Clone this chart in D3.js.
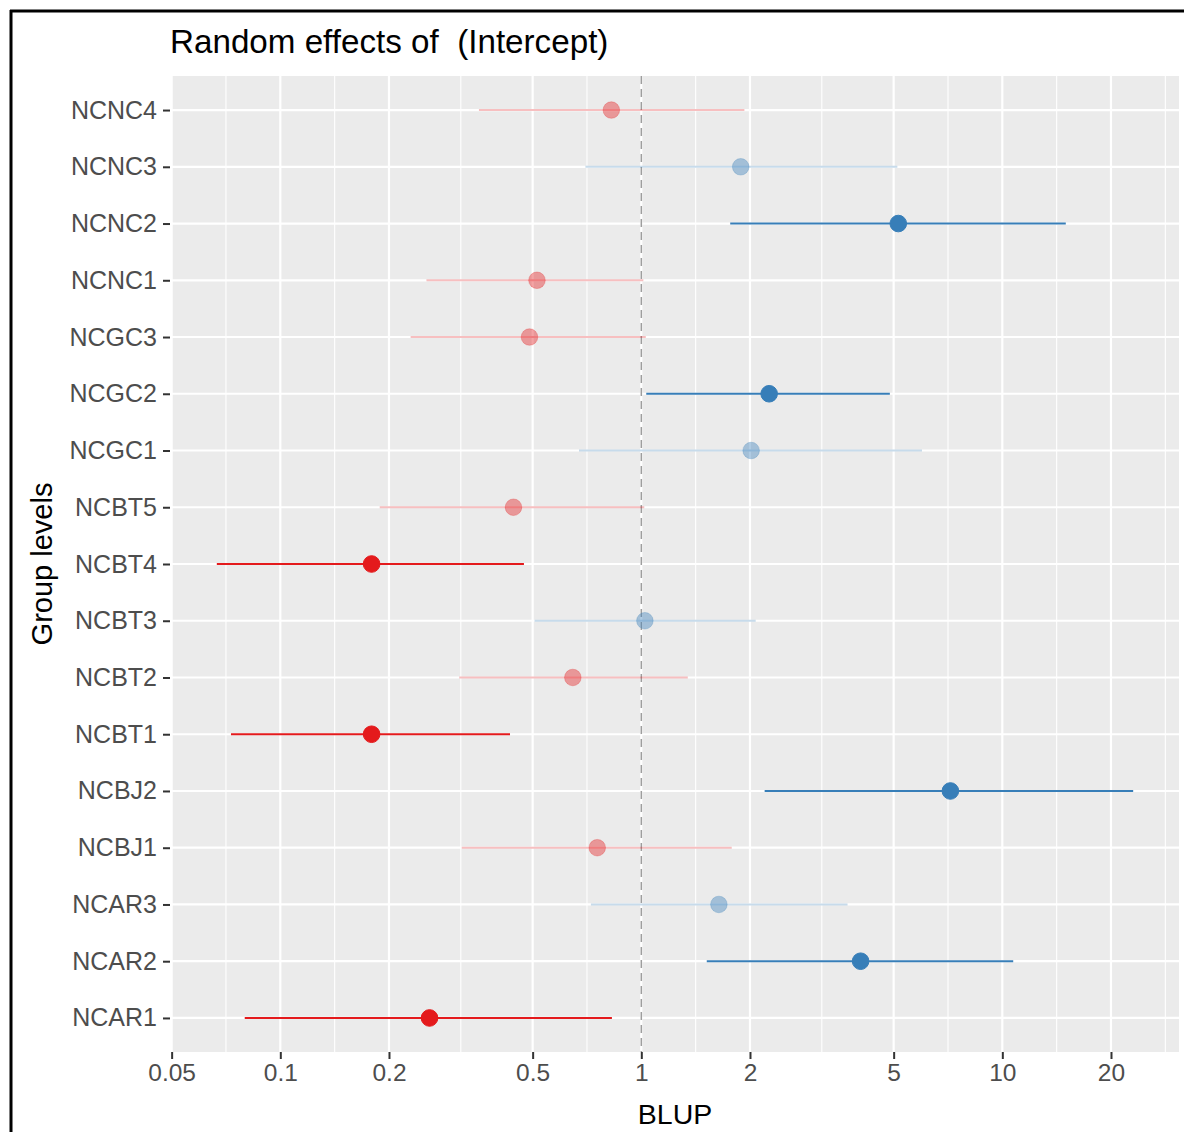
<!DOCTYPE html>
<html>
<head>
<meta charset="utf-8">
<script src="https://cdn.jsdelivr.net/npm/d3@7"></script>
<style>
  html, body { margin: 0; padding: 0; background: #fff; }
  svg { display: block; font-family: "Liberation Sans", Arial, sans-serif; }
</style>
</head>
<body>
<svg id="chart" width="1184" height="1132"></svg>
<script>
// Group levels, listed bottom to top
const groups = ["NCAR1", "NCAR2", "NCAR3", "NCBJ1", "NCBJ2", "NCBT1", "NCBT2", "NCBT3",
                "NCBT4", "NCBT5", "NCGC1", "NCGC2", "NCGC3", "NCNC1", "NCNC2", "NCNC3", "NCNC4"];
// Exponentiated BLUP estimates and interval bounds
const estimate = [0.259, 4.05, 1.64, 0.755, 7.18, 0.179, 0.646, 1.023,
                  0.179, 0.4425, 2.015, 2.26, 0.49, 0.514, 5.15, 1.885, 0.826];
const ciLow    = [0.0797, 1.518, 0.725, 0.318, 2.196, 0.073, 0.313, 0.506,
                  0.0667, 0.1885, 0.672, 1.032, 0.2296, 0.254, 1.763, 0.70, 0.355];
const ciHigh   = [0.829, 10.72, 3.726, 1.78, 23.04, 0.4328, 1.345, 2.074,
                  0.473, 1.019, 5.99, 4.88, 1.029, 1.013, 14.99, 5.12, 1.93];
const xBreaks = [0.05, 0.1, 0.2, 0.5, 1, 2, 5, 10, 20];
const xBreakLabels = ["0.05", "0.1", "0.2", "0.5", "1", "2", "5", "10", "20"];
const titleText = "Random effects of  (Intercept)";
const xTitle = "BLUP";
const yTitle = "Group levels";

const rows = groups.map((g, i) => ({ group: g, est: estimate[i], lo: ciLow[i], hi: ciHigh[i] }));

const svg = d3.select("#chart");
const panel = { left: 171, right: 1179, top: 76, bottom: 1052 };

// log x scale with 5% expansion of the data range
const lmin = Math.log10(d3.min(rows, d => d.lo));
const lmax = Math.log10(d3.max(rows, d => d.hi));
const pad = (lmax - lmin) * 0.05;
const x = d3.scaleLog()
  .domain([Math.pow(10, lmin - pad), Math.pow(10, lmax + pad)])
  .range([panel.left, panel.right]);

const y = d3.scalePoint()
  .domain(groups.slice().reverse())
  .range([panel.top, panel.bottom])
  .padding(0.6);

// outer frame lines
svg.append("line").attr("x1", 10).attr("x2", 1184).attr("y1", 11).attr("y2", 11)
  .attr("stroke", "#000").attr("stroke-width", 3);
svg.append("line").attr("x1", 11).attr("x2", 11).attr("y1", 10).attr("y2", 1132)
  .attr("stroke", "#000").attr("stroke-width", 3);

// panel background
svg.append("rect")
  .attr("x", panel.left).attr("y", panel.top)
  .attr("width", panel.right - panel.left).attr("height", panel.bottom - panel.top)
  .attr("fill", "#EBEBEB");

// minor gridlines: midpoints between breaks in log space, extended one step each side
const lb = xBreaks.map(Math.log10);
const minor = [];
for (let i = 0; i < lb.length - 1; i++) minor.push((lb[i] + lb[i + 1]) / 2);
minor.push(lb[lb.length - 1] + (lb[lb.length - 1] - lb[lb.length - 2]) / 2);
minor.unshift(lb[0] - (lb[1] - lb[0]) / 2);
const [dlo, dhi] = x.domain().map(Math.log10);

const grid = svg.append("g");
grid.selectAll("line.minor")
  .data(minor.filter(m => m >= dlo && m <= dhi))
  .join("line")
  .attr("class", "minor")
  .attr("x1", d => x(Math.pow(10, d))).attr("x2", d => x(Math.pow(10, d)))
  .attr("y1", panel.top).attr("y2", panel.bottom)
  .attr("stroke", "#fff").attr("stroke-width", 1.1);

grid.selectAll("line.vmajor")
  .data(xBreaks)
  .join("line")
  .attr("class", "vmajor")
  .attr("x1", d => x(d)).attr("x2", d => x(d))
  .attr("y1", panel.top).attr("y2", panel.bottom)
  .attr("stroke", "#fff").attr("stroke-width", 2.2);

grid.selectAll("line.hmajor")
  .data(groups)
  .join("line")
  .attr("class", "hmajor")
  .attr("x1", panel.left).attr("x2", panel.right)
  .attr("y1", d => y(d)).attr("y2", d => y(d))
  .attr("stroke", "#fff").attr("stroke-width", 2.2);

// reference line at 1
svg.append("line")
  .attr("x1", x(1)).attr("x2", x(1))
  .attr("y1", panel.top).attr("y2", panel.bottom)
  .attr("stroke", "#9E9E9E").attr("stroke-width", 1.5)
  .attr("stroke-dasharray", "8,5");

const red = "#E41A1C", blue = "#377EB8";
const colorOf = d => d.est > 1 ? blue : red;
const isSig = d => d.lo > 1 || d.hi < 1;

const marks = svg.append("g");
marks.selectAll("line.ci")
  .data(rows)
  .join("line")
  .attr("class", "ci")
  .attr("x1", d => x(d.lo)).attr("x2", d => x(d.hi))
  .attr("y1", d => y(d.group)).attr("y2", d => y(d.group))
  .attr("stroke", colorOf)
  .attr("stroke-opacity", d => isSig(d) ? 1 : 0.28)
  .attr("stroke-width", 2);

marks.selectAll("circle.est")
  .data(rows)
  .join("circle")
  .attr("class", "est")
  .attr("cx", d => x(d.est)).attr("cy", d => y(d.group))
  .attr("r", 8.3)
  .attr("fill", colorOf)
  .attr("fill-opacity", d => isSig(d) ? 1 : 0.4)
  .attr("stroke", colorOf)
  .attr("stroke-opacity", d => isSig(d) ? 1 : 0.25)
  .attr("stroke-width", 1);

// axes
const xAxis = d3.axisBottom(x)
  .tickValues(xBreaks)
  .tickFormat((d, i) => xBreakLabels[i])
  .tickSize(7).tickPadding(5);
const gx = svg.append("g").attr("transform", `translate(0,${panel.bottom})`).call(xAxis);
gx.select(".domain").remove();
gx.selectAll(".tick line").attr("stroke", "#333").attr("stroke-width", 2);
gx.selectAll(".tick text").attr("fill", "#4D4D4D").attr("font-size", 24.5)
  .attr("font-family", "Liberation Sans, Arial, sans-serif");

const yAxis = d3.axisLeft(y).tickSize(7).tickPadding(6);
const gy = svg.append("g").attr("transform", `translate(${panel.left - 1},0)`).call(yAxis);
gy.select(".domain").remove();
gy.selectAll(".tick line").attr("stroke", "#333").attr("stroke-width", 2);
gy.selectAll(".tick text").attr("fill", "#4D4D4D").attr("font-size", 25)
  .attr("font-family", "Liberation Sans, Arial, sans-serif");

// titles
svg.append("text")
  .attr("x", panel.left - 1).attr("y", 53)
  .attr("font-size", 33.2).attr("fill", "#000")
  .style("white-space", "pre")
  .text(titleText);

svg.append("text")
  .attr("x", (panel.left + panel.right) / 2).attr("y", 1124)
  .attr("text-anchor", "middle")
  .attr("font-size", 28.5).attr("fill", "#000")
  .text(xTitle);

svg.append("text")
  .attr("transform", `translate(52,${(panel.top + panel.bottom) / 2}) rotate(-90)`)
  .attr("text-anchor", "middle")
  .attr("font-size", 29).attr("fill", "#000")
  .text(yTitle);
</script>
</body>
</html>
